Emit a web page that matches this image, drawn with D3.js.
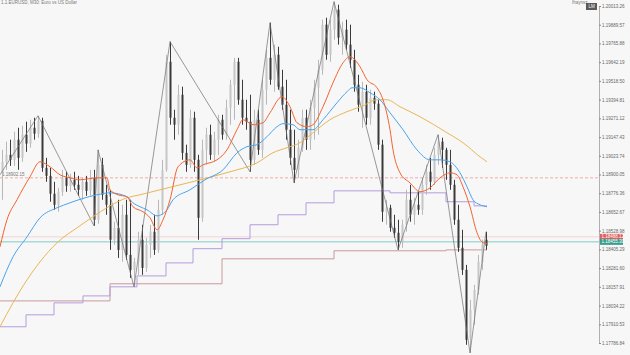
<!DOCTYPE html>
<html>
<head>
<meta charset="utf-8">
<script src="https://cdn.jsdelivr.net/npm/d3@7"></script>
<style>
  body { margin: 0; background: #f7f7f7; }
  svg { display: block; font-family: "Liberation Sans", Arial, sans-serif; }
</style>
</head>
<body>
<svg width="630" height="355"></svg>
<script>
// OHLC per bar, oldest first
var candles = [
  [1.18918,1.19063,1.18733,1.18984],[1.18984,1.19117,1.18931,1.19030],[1.19030,1.19130,1.18957,1.18997],
  [1.18997,1.19183,1.18957,1.19130],[1.19130,1.19209,1.18931,1.19010],[1.19010,1.19222,1.18984,1.19163],
  [1.19163,1.19249,1.19050,1.19104],[1.19104,1.19262,1.19077,1.19209],[1.19209,1.19275,1.19130,1.19170],
  [1.19170,1.19288,1.19143,1.19255],[1.19255,1.19275,1.18918,1.18944],[1.18944,1.19010,1.18852,1.18891],
  [1.18891,1.18944,1.18720,1.18773],[1.18773,1.18852,1.18667,1.18700],[1.18700,1.18812,1.18654,1.18786],
  [1.18786,1.18931,1.18759,1.18878],[1.18878,1.18918,1.18786,1.18825],[1.18825,1.18905,1.18786,1.18865],
  [1.18865,1.18918,1.18799,1.18832],[1.18832,1.18891,1.18759,1.18799],[1.18799,1.18878,1.18733,1.18852],
  [1.18852,1.18891,1.18759,1.18792],[1.18792,1.18931,1.18759,1.18878],[1.18878,1.18931,1.18561,1.18601],
  [1.18601,1.19063,1.18575,1.18964],[1.18964,1.19010,1.18733,1.18766],[1.18766,1.18832,1.18634,1.18700],
  [1.18700,1.18799,1.18402,1.18469],[1.18469,1.18588,1.18436,1.18548],[1.18548,1.18733,1.18349,1.18402],
  [1.18402,1.18700,1.18323,1.18634],[1.18634,1.18733,1.18336,1.18369],[1.18369,1.18733,1.18217,1.18270],
  [1.18270,1.18349,1.18158,1.18323],[1.18323,1.18522,1.18237,1.18469],[1.18469,1.18568,1.18237,1.18283],
  [1.18283,1.18482,1.18257,1.18436],[1.18436,1.18568,1.18349,1.18522],[1.18522,1.18634,1.18369,1.18402],
  [1.18402,1.18733,1.18383,1.18667],[1.18667,1.18997,1.18634,1.18931],[1.18931,1.19691,1.18918,1.19645],
  [1.19645,1.19778,1.19229,1.19275],[1.19275,1.19328,1.19130,1.19229],[1.19229,1.19493,1.19163,1.19427],
  [1.19427,1.19480,1.18997,1.19043],[1.19043,1.19097,1.18918,1.18964],[1.18964,1.19328,1.18944,1.19275],
  [1.19275,1.19315,1.18918,1.18997],[1.18997,1.19030,1.18469,1.18614],[1.18614,1.19130,1.18588,1.19063],
  [1.19063,1.19209,1.18964,1.19163],[1.19163,1.19229,1.18997,1.19030],[1.19030,1.19183,1.18984,1.19130],
  [1.19130,1.19295,1.19030,1.19262],[1.19262,1.19295,1.19130,1.19163],[1.19163,1.19394,1.19130,1.19341],
  [1.19341,1.19526,1.19229,1.19493],[1.19493,1.19671,1.19262,1.19645],[1.19645,1.19671,1.19361,1.19394],
  [1.19394,1.19526,1.19229,1.19275],[1.19275,1.19394,1.19196,1.19249],[1.19249,1.19427,1.18918,1.18997],
  [1.18997,1.19328,1.18964,1.19262],[1.19262,1.19328,1.19030,1.19063],[1.19063,1.19526,1.19010,1.19460],
  [1.19460,1.19724,1.19361,1.19671],[1.19671,1.19903,1.19493,1.19526],[1.19526,1.19758,1.19447,1.19691],
  [1.19691,1.19744,1.19460,1.19480],[1.19480,1.19592,1.19328,1.19361],[1.19361,1.19526,1.19130,1.19196],
  [1.19196,1.19328,1.18964,1.19010],[1.19010,1.19196,1.18845,1.18931],[1.18931,1.19130,1.18878,1.19077],
  [1.19077,1.19328,1.19050,1.19275],[1.19275,1.19328,1.19063,1.19130],[1.19130,1.19394,1.19063,1.19341],
  [1.19341,1.19526,1.19130,1.19473],[1.19473,1.19658,1.19163,1.19592],[1.19592,1.19923,1.19559,1.19890],
  [1.19890,1.19936,1.19658,1.19691],[1.19691,1.19923,1.19645,1.19857],[1.19857,1.20042,1.19791,1.19989],
  [1.19989,1.20022,1.19758,1.19804],[1.19804,1.19910,1.19691,1.19857],[1.19857,1.19923,1.19724,1.19758],
  [1.19758,1.19890,1.19605,1.19658],[1.19658,1.19724,1.19447,1.19493],[1.19493,1.19559,1.19315,1.19361],
  [1.19361,1.19513,1.19209,1.19447],[1.19447,1.19493,1.19229,1.19275],[1.19275,1.19460,1.19229,1.19407],
  [1.19407,1.19447,1.19328,1.19368],[1.19368,1.19394,1.19063,1.19097],[1.19097,1.19130,1.18588,1.18654],
  [1.18654,1.18733,1.18568,1.18680],[1.18680,1.18700,1.18522,1.18548],[1.18548,1.18634,1.18482,1.18515],
  [1.18515,1.18601,1.18402,1.18455],[1.18455,1.18601,1.18416,1.18568],[1.18568,1.18799,1.18522,1.18733],
  [1.18733,1.18832,1.18588,1.18634],[1.18634,1.18746,1.18568,1.18700],[1.18700,1.18786,1.18634,1.18667],
  [1.18667,1.18878,1.18634,1.18832],[1.18832,1.18964,1.18766,1.18918],[1.18918,1.19010,1.18799,1.18852],
  [1.18852,1.19077,1.18832,1.19030],[1.19030,1.19163,1.18964,1.19117],[1.19117,1.19143,1.18944,1.19063],
  [1.19063,1.19077,1.18865,1.18964],[1.18964,1.19063,1.18799,1.18832],[1.18832,1.18865,1.18568,1.18601],
  [1.18601,1.18700,1.18389,1.18416],[1.18416,1.18535,1.18237,1.18270],[1.18270,1.18303,1.17775,1.17808],
  [1.17821,1.18072,1.17721,1.18006],[1.18006,1.18171,1.17907,1.18138],[1.18138,1.18369,1.18105,1.18323],
  [1.18323,1.18469,1.18270,1.18436],[1.18469,1.18522,1.18402,1.18429]
];

// moving averages: [bar index, price]
var maRed = [
  [-0.5,1.18422],[1.25,1.18601],[3.75,1.18733],[7,1.18885],[9.5,1.18984],[12,1.18951],[14.5,1.18898],
  [17,1.18878],[19.5,1.18865],[23.75,1.18878],[26.25,1.18878],[27,1.18799],[29,1.18766],[31.25,1.18753],
  [32.75,1.18687],[35.25,1.18654],[37,1.18614],[38.75,1.18535],[40.25,1.18601],[42,1.18733],[44,1.18951],
  [47,1.18997],[48.75,1.18944],[50.25,1.18964],[53.75,1.18997],[56.25,1.19063],[58.75,1.19196],
  [60.25,1.19262],[62.75,1.19229],[65.25,1.19242],[67,1.19308],[70,1.19414],[72,1.19348],[73.75,1.19242],
  [76.25,1.19216],[77.75,1.19229],[80.25,1.19348],[82.75,1.19506],[85.25,1.19638],[87,1.19678],
  [89.5,1.19612],[91.25,1.19526],[93.75,1.19473],[95.25,1.19394],[97,1.19196],[97.75,1.19063],
  [99.5,1.18911],[102,1.18845],[104.5,1.18786],[107,1.18812],[109.5,1.18878],[112,1.18911],
  [113.75,1.18898],[115.25,1.18819],[117,1.18687],[118.75,1.18515],[120.25,1.18449],[121.5,1.18442]
];
var maBlue = [
  [-0.5,1.18158],[2.75,1.18356],[6.25,1.18488],[9.5,1.18614],[13.75,1.18680],[17,1.18713],[20,1.18740],
  [23.75,1.18766],[27,1.18779],[31.25,1.18753],[32.75,1.18713],[34.5,1.18687],[36.25,1.18667],
  [38.75,1.18627],[41.25,1.18667],[42.75,1.18733],[47,1.18799],[50.75,1.18865],[55.25,1.18931],
  [58.75,1.19043],[61.25,1.19084],[63.75,1.19097],[66.25,1.19150],[68.75,1.19216],[70.25,1.19236],
  [72.75,1.19229],[74.5,1.19196],[77.75,1.19196],[80.25,1.19262],[83.75,1.19374],[86.25,1.19447],
  [87.5,1.19473],[89.5,1.19473],[92,1.19440],[94.5,1.19394],[97,1.19308],[100.25,1.19196],
  [103.75,1.19063],[107,1.18997],[109.5,1.18997],[112,1.18984],[114.5,1.18911],[116.25,1.18819],
  [117.75,1.18733],[119.5,1.18700],[121.25,1.18687]
];
var maOrange = [
  [-0.5,1.17894],[2.75,1.18052],[6.25,1.18204],[9.5,1.18323],[13.75,1.18449],[18.75,1.18548],
  [22.75,1.18621],[27,1.18693],[31.25,1.18746],[34.5,1.18766],[39.5,1.18799],[49.5,1.18865],
  [57,1.18918],[63.75,1.18977],[67.75,1.19044],[71.25,1.19077],[74.5,1.19110],[77.75,1.19176],
  [82,1.19262],[86.25,1.19315],[90.25,1.19354],[93.75,1.19394],[96.25,1.19394],[99.5,1.19348],
  [104.5,1.19282],[111.25,1.19176],[115.25,1.19110],[119.5,1.19017],[121.25,1.18984]
];

// zigzag swing points: [bar index, price]
var zigzag = [
  [-0.5,1.18898],[9,1.19288],[23,1.18561],[24,1.19063],[33,1.18158],[42,1.19778],[62,1.18918],
  [67,1.19903],[73,1.18845],[83,1.20042],[99,1.18402],[109,1.19163],[117,1.17721],[121,1.18522]
];

// step levels: [start bar index, price]; last entry only closes the line
var purpleSteps = [
  [-0.5,1.17894],[6,1.17973],[13,1.18052],[20.25,1.18098],[27,1.18158],[33.75,1.18230],[41,1.18316],
  [47.75,1.18410],[55,1.18476],[62,1.18568],[69,1.18634],[76,1.18713],[83,1.18792],[97,1.18779],
  [111,1.18720],[118,1.18693],[121.25,1.18693]
];
var brownSteps = [
  [-0.5,1.18065],[27,1.18178],[55,1.18343],[83,1.18396],[111,1.18402],[121.25,1.18402]
];

var dashedLevel = 1.18878, dashedLabel = "1.18902.15";
var pinkLevel = 1.18488, tealLevel = 1.18455;
var tagLabels = ["1.18488.12", "1.18455.30"];

var tickValues = [1.2001326,1.1988957,1.1976588,1.1964219,1.1951850,1.1939481,1.1927112,1.1914743,
  1.1902374,1.1890005,1.1877636,1.1865267,1.1852898,1.1840529,1.1828160,1.1815791,1.1803422,1.1791053,1.1778684];
var tickLabels = ["1.20013.26","1.19889.57","1.19765.88","1.19642.19","1.19518.50","1.19394.81","1.19271.12",
  "1.19147.43","1.19023.74","1.18900.05","1.18776.36","1.18652.67","1.18528.98","1.18405.29","1.18281.60",
  "1.18157.91","1.18034.22","1.17910.53","1.17786.84"];

var svg = d3.select("svg"),
    width = +svg.attr("width"),
    height = +svg.attr("height"),
    plotRight = 599;

var x = d3.scaleLinear().domain([0, 121]).range([2, 486]);
var y = d3.scaleLinear().domain([1.1778684, 1.2001326]).range([343, 6]);

svg.append("rect").attr("width", width).attr("height", height).attr("fill", "#f7f7f7");

// horizontal levels
svg.append("line")
    .attr("x1", 0).attr("x2", plotRight)
    .attr("y1", y(dashedLevel)).attr("y2", y(dashedLevel))
    .attr("stroke", "#ef9a9a").attr("stroke-width", 0.8).attr("stroke-dasharray", "3,2");
svg.append("text")
    .attr("x", 2).attr("y", y(dashedLevel) - 1.5)
    .attr("font-size", 4.5).attr("fill", "#777")
    .text(dashedLabel);
svg.append("line")
    .attr("x1", 0).attr("x2", plotRight)
    .attr("y1", y(pinkLevel)).attr("y2", y(pinkLevel))
    .attr("stroke", "#f2d4d4").attr("stroke-width", 1);
svg.append("line")
    .attr("x1", 0).attr("x2", plotRight)
    .attr("y1", y(tealLevel)).attr("y2", y(tealLevel))
    .attr("stroke", "#80cbc4").attr("stroke-width", 1);

var stepLine = d3.line()
    .x(function(d) { return x(d[0]); })
    .y(function(d) { return y(d[1]); })
    .curve(d3.curveStepAfter);

svg.append("path").datum(brownSteps)
    .attr("d", stepLine).attr("fill", "none")
    .attr("stroke", "#c99a9a").attr("stroke-width", 1);
svg.append("path").datum(purpleSteps)
    .attr("d", stepLine).attr("fill", "none")
    .attr("stroke", "#b39ddb").attr("stroke-width", 1);

// candles
var bar = svg.append("g").attr("class", "candles")
  .selectAll("g")
  .data(candles)
  .enter().append("g");

bar.append("line")
    .attr("x1", function(d, i) { return Math.round(x(i)) + 0.5; })
    .attr("x2", function(d, i) { return Math.round(x(i)) + 0.5; })
    .attr("y1", function(d) { return y(d[1]); })
    .attr("y2", function(d) { return y(d[2]); })
    .attr("stroke", function(d) { return d[3] < d[0] ? "#3a3a3a" : "#b8b8b8"; })
    .attr("stroke-width", 1);

bar.append("rect")
    .attr("x", function(d, i) { return Math.round(x(i)) - 0.5; })
    .attr("width", 2)
    .attr("y", function(d) { return y(Math.max(d[0], d[3])); })
    .attr("height", function(d) { return Math.max(1, Math.abs(y(d[0]) - y(d[3]))); })
    .attr("fill", function(d) { return d[3] < d[0] ? "#3a3a3a" : "#c6c6c6"; });

// zigzag and moving averages
svg.append("path").datum(zigzag)
    .attr("d", d3.line().x(function(d) { return x(d[0]); }).y(function(d) { return y(d[1]); }))
    .attr("fill", "none").attr("stroke", "#6e6e6e").attr("stroke-width", 0.7);

var maLine = d3.line()
    .x(function(d) { return x(d[0]); })
    .y(function(d) { return y(d[1]); })
    .curve(d3.curveMonotoneX);

svg.append("path").datum(maOrange)
    .attr("d", maLine).attr("fill", "none").attr("stroke", "#eab655").attr("stroke-width", 1);
svg.append("path").datum(maBlue)
    .attr("d", maLine).attr("fill", "none").attr("stroke", "#4aa3f0").attr("stroke-width", 1);
svg.append("path").datum(maRed)
    .attr("d", maLine).attr("fill", "none").attr("stroke", "#f4632e").attr("stroke-width", 1);

// price axis
svg.append("rect").attr("x", plotRight).attr("y", 0)
    .attr("width", width - plotRight).attr("height", height).attr("fill", "#f7f7f7");

var axis = svg.append("g")
    .attr("transform", "translate(" + plotRight + ",0)")
    .call(d3.axisRight(y)
      .tickValues(tickValues)
      .tickFormat(function(d, i) { return tickLabels[i]; })
      .tickSize(2)
      .tickPadding(1));
axis.select(".domain").attr("stroke", "#b0b0b0");
axis.selectAll(".tick line").attr("stroke", "#888");
axis.selectAll(".tick text").attr("font-size", 4.5).attr("fill", "#666")
    .attr("font-family", "Liberation Sans, Arial, sans-serif");

// current price tags
var tags = [[pinkLevel, "#e35d5d"], [tealLevel, "#3a9e8f"]];
tags.forEach(function(t, i) {
  svg.append("rect")
      .attr("x", plotRight + 1).attr("y", y(t[0]) - 3)
      .attr("width", 23).attr("height", 6).attr("fill", t[1]);
  svg.append("text")
      .attr("x", plotRight + 2.5).attr("y", y(t[0]) + 1.6)
      .attr("font-size", 4.5).attr("fill", "#fff")
      .text(tagLabels[i]);
});

// header texts
svg.append("text")
    .attr("x", 1).attr("y", 4)
    .attr("font-size", 4.5).attr("fill", "#777")
    .text("1.1.EURUSD, M30: Euro vs US Dollar");
svg.append("text")
    .attr("x", 572).attr("y", 3.5)
    .attr("font-size", 4.5).attr("fill", "#777")
    .text("Ihaynsz");
svg.append("rect")
    .attr("x", 586).attr("y", 3).attr("width", 11).attr("height", 7).attr("fill", "#5a5a5a");
svg.append("text")
    .attr("x", 588.5).attr("y", 8)
    .attr("font-size", 4.5).attr("fill", "#fff")
    .text("LM");
</script>
</body>
</html>
